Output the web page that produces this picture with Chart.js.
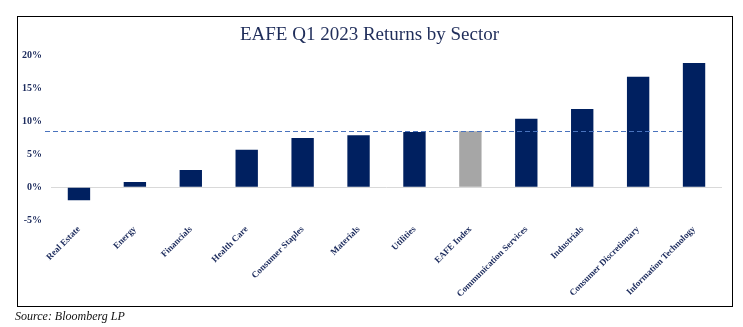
<!DOCTYPE html>
<html>
<head>
<meta charset="utf-8">
<script src="https://cdn.jsdelivr.net/npm/chart.js@4"></script>
<style>
    html, body { margin: 0; padding: 0; background: #fff; }
    #wrap { position: relative; width: 743px; height: 327px; }
    #frame {
        position: absolute; left: 17px; top: 16px; width: 716px; height: 291px;
        border: 1.5px solid #000; box-sizing: border-box; pointer-events: none;
    }
    #source {
        position: absolute; left: 15px; top: 309px;
        font: italic 12px "Liberation Serif", serif; color: #111;
    }
    canvas { position: absolute; left: 0; top: 0; }
</style>
</head>
<body>
<div id="wrap">
    <canvas id="chart" width="743" height="327"></canvas>
    <div id="frame"></div>
    <div id="source">Source: Bloomberg LP</div>
</div>
<script>
    // ─── Data ────────────────────────────────────────────────────────────────
    const sectors = ['Real Estate', 'Energy', 'Financials', 'Health Care', 'Consumer Staples',
                     'Materials', 'Utilities', 'EAFE Index', 'Communication Services',
                     'Industrials', 'Consumer Discretionary', 'Information Technology'];
    const returns = [-2.0, 0.8, 2.6, 5.7, 7.5, 7.9, 8.4, 8.5, 10.4, 11.9, 16.8, 18.9];
    const benchmark = 'EAFE Index';
    const yTicks = [-5, 0, 5, 10, 15, 20];

    const NAVY = '#002060';
    const GREY = '#a6a6a6';
    const TEXT = '#1b2a5c';

    const eafeValue = returns[sectors.indexOf(benchmark)];

    // dashed benchmark line across the plot
    const benchmarkLine = {
        id: 'benchmarkLine',
        afterDatasetsDraw(chart) {
            const { ctx, chartArea, scales } = chart;
            const y = Math.round(scales.y.getPixelForValue(eafeValue)) + 0.5;
            const x0 = chartArea.left - 6;
            const x1 = scales.x.getPixelForValue(sectors.length - 1) - 9;
            ctx.save();
            ctx.strokeStyle = '#4a73bd';
            ctx.lineWidth = 1;
            ctx.setLineDash([5, 3]);
            ctx.beginPath();
            ctx.moveTo(x0, y);
            ctx.lineTo(x1, y);
            ctx.stroke();
            ctx.restore();
        }
    };

    new Chart(document.getElementById('chart'), {
        type: 'bar',
        data: {
            labels: sectors,
            datasets: [{
                data: returns,
                backgroundColor: sectors.map(s => s === benchmark ? GREY : NAVY),
                barPercentage: 0.4,
                categoryPercentage: 1.0,
            }],
        },
        options: {
            responsive: false,
            animation: false,
            layout: { padding: { left: 17, right: 21, top: 0, bottom: 24 } },
            plugins: {
                legend: { display: false },
                tooltip: { enabled: false },
                title: {
                    display: true,
                    text: 'EAFE Q1 2023 Returns by Sector',
                    color: '#1f2d5a',
                    font: { family: '"Liberation Serif", serif', size: 19, weight: 'normal' },
                    padding: { top: 24, bottom: 9 },
                },
            },
            scales: {
                x: {
                    grid: { display: false, drawTicks: false },
                    border: { display: false },
                    ticks: {
                        color: TEXT,
                        font: { family: '"Liberation Serif", serif', size: 9, weight: 'bold' },
                        minRotation: 45,
                        maxRotation: 45,
                        padding: 4,
                        autoSkip: false,
                    },
                    afterFit: s => { s.height = 83; },
                },
                y: {
                    min: -5,
                    max: 20,
                    afterBuildTicks: s => { s.ticks = yTicks.map(v => ({ value: v })); },
                    grid: {
                        drawTicks: false,
                        color: c => c.tick && c.tick.value === 0 ? '#d9d9d9' : 'transparent',
                    },
                    border: { display: false },
                    ticks: {
                        color: TEXT,
                        font: { family: '"Liberation Serif", serif', size: 10, weight: 'bold' },
                        padding: 9,
                        callback: v => v + '%',
                    },
                    afterFit: s => { s.width = 34; },
                },
            },
        },
        plugins: [benchmarkLine],
    });
</script>
</body>
</html>
